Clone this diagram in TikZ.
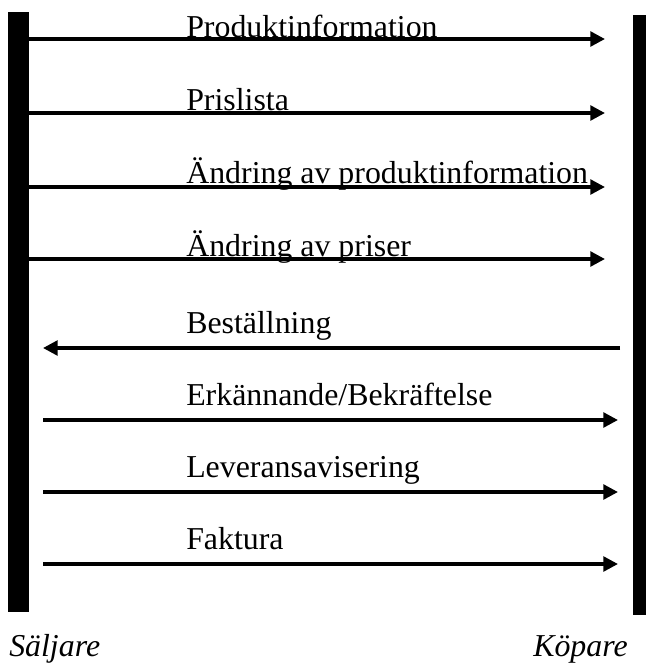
\documentclass[tikz,border=0pt]{standalone}
\usepackage{fontspec}
\setmainfont{Liberation Serif}
\usetikzlibrary{arrows.meta}
\begin{document}
\begin{tikzpicture}[x=0.75pt,y=-0.75pt,
  msg/.style={line width=2.6pt,-{Triangle[length=11pt,width=11pt]}},
  lbl/.style={anchor=base west,inner sep=0pt,font=\fontsize{23.9}{28}\selectfont},
  party/.style={anchor=base west,inner sep=0pt,font=\fontsize{23.9}{28}\selectfont\itshape},
  lifeline/.style={fill=black,draw=none,inner sep=0pt,minimum height=450pt}]
\useasboundingbox (0,0) rectangle (646,665);
% lifelines of the two parties
\node[lifeline,minimum width=15.75pt] (seller) at (18.5,312) {};
\node[lifeline,minimum width=9.75pt] (buyer) at (639.5,315) {};
% end points of the messages
\coordinate (r1) at (605,39);
\coordinate (r2) at (605,113);
\coordinate (r3) at (605,187);
\coordinate (r4) at (605,259);
\coordinate (s5) at (620,348); \coordinate (e5) at (43,348);
\coordinate (s6) at (43,420);  \coordinate (e6) at (618,420);
\coordinate (s7) at (43,492);  \coordinate (e7) at (618,492);
\coordinate (s8) at (43,564);  \coordinate (e8) at (618,564);
% messages
\draw[msg] (seller.east |- r1) -- (r1);
\draw[msg] (seller.east |- r2) -- (r2);
\draw[msg] (seller.east |- r3) -- (r3);
\draw[msg] (seller.east |- r4) -- (r4);
\draw[msg] (s5) -- (e5);
\draw[msg] (s6) -- (e6);
\draw[msg] (s7) -- (e7);
\draw[msg] (s8) -- (e8);
% message labels
\node[lbl] (t1) at (186,37) {Produktinformation};
\node[lbl] (t2) at (186,110) {Prislista};
\node[lbl] (t3) at (186,183) {Ändring av produktinformation};
\node[lbl] (t4) at (186,256) {Ändring av priser};
\node[lbl] (t5) at (186,333) {Beställning};
\node[lbl] (t6) at (186,405) {Erkännande/Bekräftelse};
\node[lbl] (t7) at (186,477) {Leveransavisering};
\node[lbl] (t8) at (186,549) {Faktura};
% party names
\node[party] (n1) at (9,656) {Säljare};
\node[party] (n2) at (533,656) {Köpare};
\end{tikzpicture}
\end{document}
